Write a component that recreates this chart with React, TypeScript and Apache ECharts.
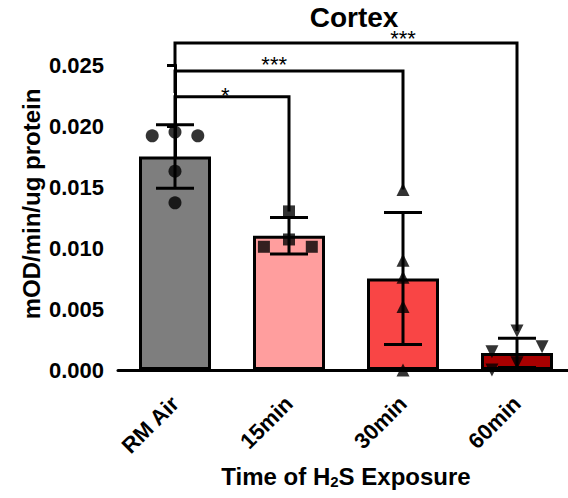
import React, { useEffect, useRef } from "react";
import * as echarts from "echarts";

const categories = ["RM Air", "15min", "30min", "60min"];
const barMeans = [0.0175, 0.011, 0.0075, 0.0014];
const barSDs = [0.0026, 0.0015, 0.0054, 0.0012];

// individual measurements per group
const rmAirValues = [0.0192, 0.0195, 0.0192, 0.0163, 0.0137];
const min15Values = [0.0101, 0.013, 0.0107, 0.0101];
const min30Values = [0.0148, 0.009, 0.0076, 0.0052, 0.0];
const min60Values = [0.0032, 0.0019, 0.0015, 0.0, 0.0006];
// horizontal scatter of the points, in category units
const rmAirJitter = [-0.2, 0, 0.2, 0, 0];
const min15Jitter = [-0.22, 0, 0, 0.2];
const min30Jitter = [0, 0, 0, 0, 0];
const min60Jitter = [0, 0.22, -0.22, -0.22, 0];

// significance brackets
const bracketFrom = [0, 0, 0];
const bracketTo = [1, 2, 3];
const bracketLevel = [0.0224, 0.0245, 0.0268];
const bracketLeftEnd = [0.0201, 0.0227, 0.0249];
const bracketRightEnd = [0.013, 0.0148, 0.0032];
const bracketLabels = ["*", "***", "***"];
const bracketLabelX = [0.44, 0.87, 2.0];
const bracketLabelY = [0.02295, 0.02541, 0.02762];

const yTicks = { min: 0, max: 0.025, interval: 0.005 };

const barColors = ["#7e7e7e", "#ff9e9e", "#f94545", "#a80000"];
const FONT = "Liberation Sans";

export default function App() {
  const ref = useRef<HTMLDivElement>(null);
  useEffect(() => {
    if (!ref.current) return;
    const chart = echarts.init(ref.current, null, { renderer: "svg" });

    const groups = [
      { values: rmAirValues, jitter: rmAirJitter, symbol: "circle", rotate: 0, size: 13 },
      { values: min15Values, jitter: min15Jitter, symbol: "rect", rotate: 0, size: 12 },
      { values: min30Values, jitter: min30Jitter, symbol: "triangle", rotate: 0, size: 13 },
      { values: min60Values, jitter: min60Jitter, symbol: "triangle", rotate: 180, size: 13 },
    ];

    const scatterSeries = groups.map((g, gi) => ({
      type: "scatter",
      xAxisIndex: 1,
      yAxisIndex: 0,
      symbol: g.symbol,
      symbolRotate: g.rotate,
      symbolSize: g.size,
      itemStyle: { color: "#000" },
      z: 3,
      data: g.values.map((v, i) => [gi + g.jitter[i], v]),
    }));

    const bracketData = bracketFrom.map((f, i) => [
      f,
      bracketTo[i],
      bracketLevel[i],
      bracketLeftEnd[i],
      bracketRightEnd[i],
      bracketLabelX[i],
      bracketLabelY[i],
    ]);

    chart.setOption({
      animation: false,
      title: {
        text: "Cortex",
        left: 349,
        top: -2,
        textAlign: "center",
        textStyle: { fontFamily: FONT, fontSize: 28, fontWeight: "bold", color: "#000" },
      },
      graphic: [
        {
          type: "text",
          x: 31,
          y: 204,
          rotation: Math.PI / 2,
          style: {
            text: "mOD/min/ug protein",
            fontFamily: FONT,
            fontSize: 24,
            fontWeight: "bold",
            fill: "#000",
            textAlign: "center",
            textVerticalAlign: "middle",
          },
        },
      ],
      grid: { left: 118, top: 65, height: 305, width: 456, outerBoundsMode: "none", containLabel: false },
      xAxis: [
        {
          type: "category",
          data: categories,
          axisLine: { lineStyle: { color: "#000", width: 3 } },
          axisTick: { length: 7, lineStyle: { color: "#000", width: 2.5 }, alignWithLabel: true },
          axisLabel: {
            rotate: 45,
            margin: 30,
            fontFamily: FONT,
            fontSize: 22,
            fontWeight: "bold",
            color: "#000",
          },
          name: "{a|Time of H}{s|2}{a|S Exposure}",
          nameLocation: "middle",
          nameGap: 94,
          nameTextStyle: {
            rich: {
              a: { fontFamily: FONT, fontSize: 24, fontWeight: "bold", color: "#000" },
              s: {
                fontFamily: FONT,
                fontSize: 15,
                fontWeight: "bold",
                color: "#000",
                verticalAlign: "bottom",
                padding: [10, 0, 0, 0],
              },
            },
          },
        },
        {
          type: "value",
          min: -0.5,
          max: 3.5,
          show: false,
          splitLine: { show: false },
        },
      ],
      yAxis: {
        type: "value",
        min: yTicks.min,
        max: yTicks.max,
        interval: yTicks.interval,
        axisLine: { show: true, lineStyle: { color: "#000", width: 3 } },
        axisTick: { show: true, length: 8, lineStyle: { color: "#000", width: 3 } },
        splitLine: { show: false },
        axisLabel: {
          margin: 14,
          fontFamily: FONT,
          fontSize: 22,
          fontWeight: "bold",
          color: "#000",
          formatter: (v: number) => v.toFixed(3),
        },
      },
      series: [
        {
          type: "bar",
          xAxisIndex: 0,
          yAxisIndex: 0,
          barWidth: 72,
          z: 2,
          data: barMeans.map((v, i) => ({
            value: v,
            itemStyle: { color: barColors[i], borderColor: "#000", borderWidth: 3 },
          })),
        },
        ...scatterSeries,
        {
          type: "custom",
          xAxisIndex: 1,
          yAxisIndex: 0,
          z: 4,
          data: barMeans.map((m, i) => [i, m, barSDs[i]]),
          renderItem: (params: any, api: any) => {
            const x = api.value(0);
            const m = api.value(1);
            const sd = api.value(2);
            const top = api.coord([x, m + sd]);
            const bot = api.coord([x, Math.max(0, m - sd)]);
            const hw = 19;
            const style = { stroke: "#000", lineWidth: 3, fill: null };
            return {
              type: "group",
              children: [
                { type: "line", shape: { x1: top[0], y1: top[1], x2: bot[0], y2: bot[1] }, style },
                { type: "line", shape: { x1: top[0] - hw, y1: top[1], x2: top[0] + hw, y2: top[1] }, style },
                { type: "line", shape: { x1: bot[0] - hw, y1: bot[1], x2: bot[0] + hw, y2: bot[1] }, style },
              ],
            };
          },
        },
        {
          type: "custom",
          xAxisIndex: 1,
          yAxisIndex: 0,
          z: 5,
          clip: false,
          data: bracketData,
          renderItem: (params: any, api: any) => {
            const i = params.dataIndex;
            const a = api.coord([api.value(0), api.value(3)]);
            const b = api.coord([api.value(0), api.value(2)]);
            const c = api.coord([api.value(1), api.value(2)]);
            const d = api.coord([api.value(1), api.value(4)]);
            const t = api.coord([api.value(5), api.value(6)]);
            return {
              type: "group",
              children: [
                {
                  type: "polyline",
                  shape: { points: [a, b, c, d] },
                  style: { stroke: "#000", lineWidth: 3, fill: null },
                },
                {
                  type: "text",
                  x: t[0],
                  y: t[1] + 5,
                  style: {
                    text: bracketLabels[i],
                    fontFamily: FONT,
                    fontSize: 22,
                    fill: "#000",
                    textAlign: "center",
                    textVerticalAlign: "middle",
                  },
                },
              ],
            };
          },
        },
      ],
    });
    return () => chart.dispose();
  }, []);
  return (
    <div
      ref={ref}
      style={{ position: "absolute", left: 0, top: 0, width: 568, height: 498 }}
    />
  );
}
